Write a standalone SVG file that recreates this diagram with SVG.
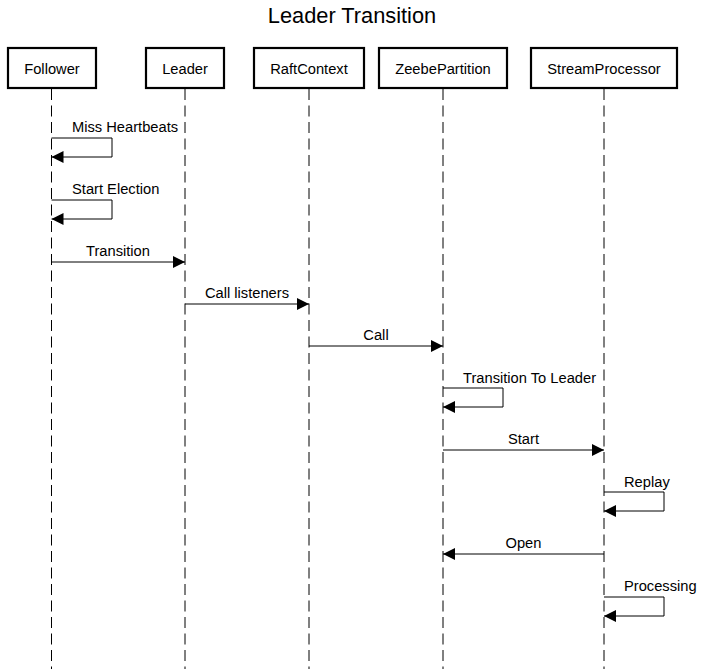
<svg xmlns="http://www.w3.org/2000/svg" width="704" height="669" viewBox="0 0 704 669">
<style>
text{font-family:"Liberation Sans",Arial,sans-serif;fill:#000}
.title{font-size:21.8px;text-anchor:middle}
.actor rect{fill:#fff;stroke:#000;stroke-width:2.2}
.actor text{font-size:14.7px;text-anchor:middle}
.life{stroke:#000;stroke-width:1;stroke-dasharray:11,5.5;fill:none}
.msg{stroke:#000;stroke-width:1;fill:none;marker-end:url(#arr)}
.lbl{font-size:14.7px;text-anchor:middle}
.lbls{font-size:14.7px;text-anchor:start}
</style>
<defs>
<marker id="arr" viewBox="0 0 12 12" refX="12" refY="6" markerWidth="12" markerHeight="12" markerUnits="userSpaceOnUse" orient="auto">
<path d="M0,0 L12,6 L0,12 Z" fill="#000"/>
</marker>
</defs>
<rect width="704" height="669" fill="#fff"/>
<text class="title" x="352" y="23">Leader Transition</text>
<g id="lifelines">
<line class="life" x1="51.5" y1="89" x2="51.5" y2="669"/>
<line class="life" x1="185" y1="89" x2="185" y2="669"/>
<line class="life" x1="309" y1="89" x2="309" y2="669"/>
<line class="life" x1="443" y1="89" x2="443" y2="669"/>
<line class="life" x1="604" y1="89" x2="604" y2="669"/>
</g>
<g id="Follower" class="actor"><rect x="8" y="48" width="88" height="40"/><text x="52" y="74">Follower</text></g>
<g id="Leader" class="actor"><rect x="146" y="48" width="78" height="40"/><text x="185" y="74">Leader</text></g>
<g id="RaftContext" class="actor"><rect x="254" y="48" width="110" height="40"/><text x="309" y="74">RaftContext</text></g>
<g id="ZeebePartition" class="actor"><rect x="379" y="48" width="128" height="40"/><text x="443" y="74">ZeebePartition</text></g>
<g id="StreamProcessor" class="actor"><rect x="531" y="48" width="146" height="40"/><text x="604" y="74">StreamProcessor</text></g>
<g id="connectors">
<polyline class="msg" points="51.5,138 112,138 112,157 51.5,157"/>
<text class="lbls" x="72" y="132">Miss Heartbeats</text>
<polyline class="msg" points="51.5,200 112,200 112,219 51.5,219"/>
<text class="lbls" x="72" y="194">Start Election</text>
<line class="msg" x1="51.5" y1="262" x2="185" y2="262"/>
<text class="lbl" x="118" y="256">Transition</text>
<line class="msg" x1="185" y1="304" x2="309" y2="304"/>
<text class="lbl" x="247" y="298">Call listeners</text>
<line class="msg" x1="309" y1="346" x2="443" y2="346"/>
<text class="lbl" x="376" y="340">Call</text>
<polyline class="msg" points="443,388 503,388 503,407 443,407"/>
<text class="lbls" x="463" y="383">Transition To Leader</text>
<line class="msg" x1="443" y1="450" x2="604" y2="450"/>
<text class="lbl" x="523.5" y="444">Start</text>
<polyline class="msg" points="604,492 664,492 664,511 604,511"/>
<text class="lbls" x="624" y="487">Replay</text>
<line class="msg" x1="604" y1="554" x2="443" y2="554"/>
<text class="lbl" x="523.5" y="548">Open</text>
<polyline class="msg" points="604,597 664,597 664,616 604,616"/>
<text class="lbls" x="624" y="591">Processing</text>
</g>
</svg>
